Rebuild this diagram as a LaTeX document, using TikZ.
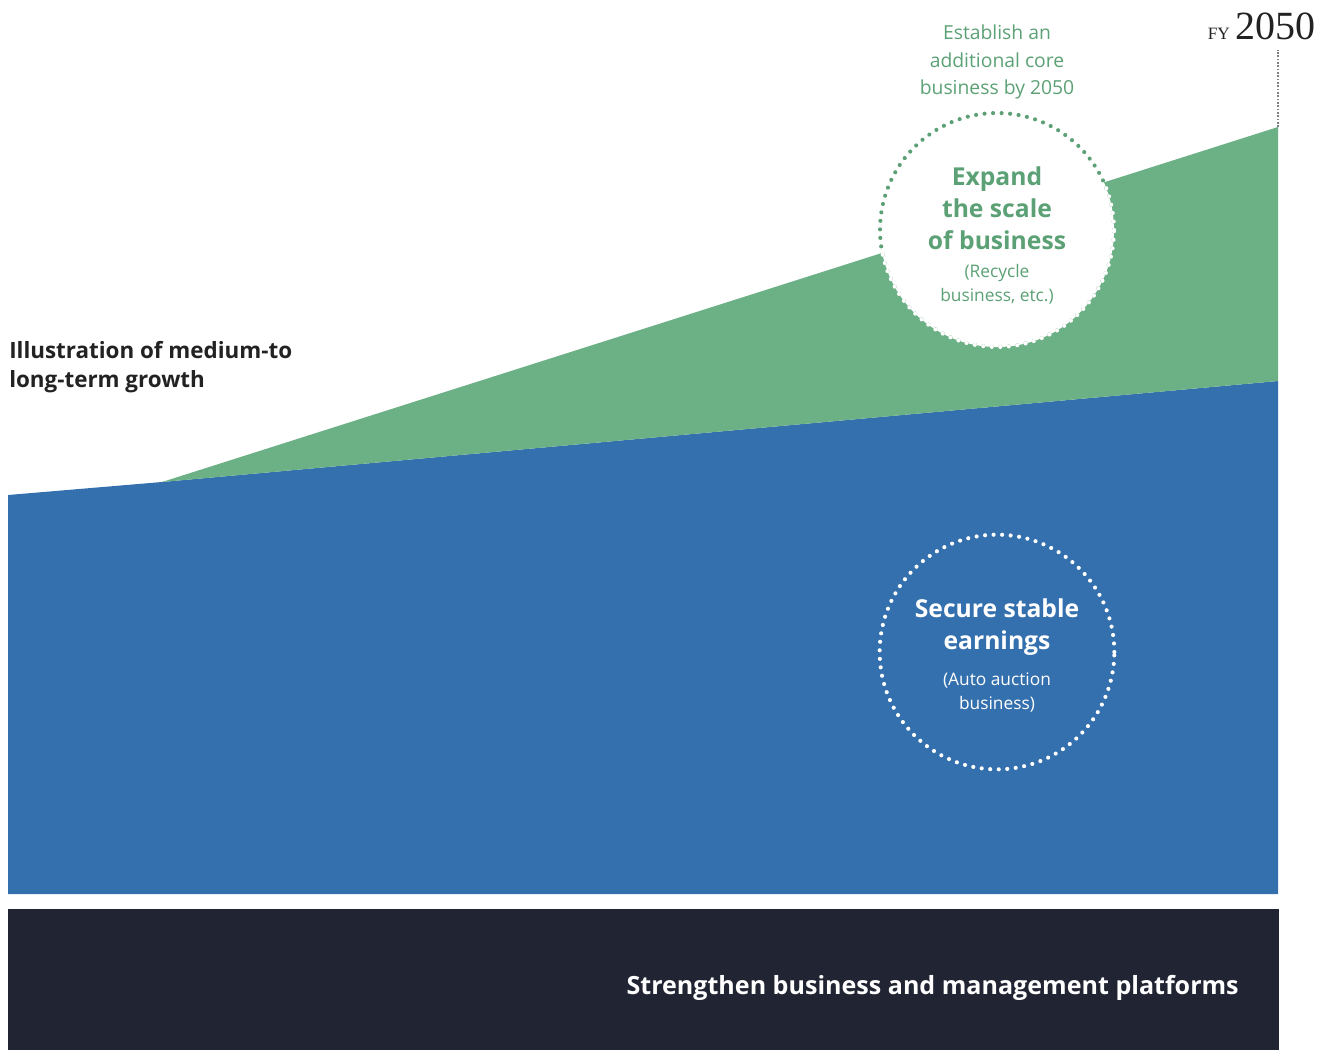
\documentclass[tikz,border=0pt]{standalone}
\usepackage{fontspec}
\setmainfont{Open Sans}
\newfontfamily\yearfont{Liberation Serif}
\definecolor{growgreen}{RGB}{108,177,134}
\definecolor{textgreen}{RGB}{92,161,117}
\definecolor{baseblue}{RGB}{52,112,174}
\definecolor{platdark}{RGB}{33,36,50}
\definecolor{inkdark}{RGB}{34,34,34}
\tikzset{
    dotring/.style={line width=3.1pt, line cap=round, dash pattern=on 0pt off 6.4pt},
    heading/.style={align=center, inner sep=0pt, font=\bfseries\fontsize{18.5}{24}\selectfont},
    subnote/.style={align=center, inner sep=0pt, font=\fontsize{13}{18}\selectfont}
}

\begin{document}
\begin{tikzpicture}[x=0.75pt,y=-0.75pt]
    \useasboundingbox (0,0) rectangle (1335,1050);

    % areas
    \coordinate (kink) at (162,482);
    \coordinate (peak) at (1278,127);
    \fill[baseblue] (8,495) -- (kink) -- (1278,381) -- (1278,894) -- (8,894) -- cycle;
    \fill[growgreen] (kink) -- (peak) -- (1278,381) -- cycle;
    \fill[platdark] (8,909) rectangle (1279,1050);

    % year mark
    \node[anchor=base east, inner sep=0pt, text=inkdark] (fy) at (1316,39)
        {\yearfont\fontsize{13}{13}\selectfont FY\,\,\fontsize{30}{30}\selectfont 2050};
    \draw[gray, line width=0.9pt, dash pattern=on 1.2pt off 1.3pt] (peak) -- (peak |- 0,50);

    % upper circle
    \coordinate (upc) at (997,230);
    \fill[white] (upc) circle[radius=87.75pt];
    \draw[dotring, textgreen] (upc) circle[radius=87.75pt];
    \begin{scope}
        \clip (kink) -- (peak) -- (1278,381) -- cycle;
        \draw[dotring, white] (upc) circle[radius=87.75pt];
    \end{scope}
    \node[heading, text=textgreen] (expand) at (997,208) {Expand\\the scale\\of business};
    \node[subnote, text=textgreen] (recycle) at (997,284) {(Recycle\\business, etc.)};
    \node[align=center, inner sep=0pt, text=textgreen, font=\fontsize{14.5}{20.6}\selectfont] (extra) at (997,62)
        {Establish an\\additional core\\business by 2050};

    % lower circle
    \coordinate (loc) at (997,652);
    \draw[dotring, white] (loc) circle[radius=88pt];
    \node[heading, text=white] (secure) at (997,627) {Secure stable\\earnings};
    \node[subnote, text=white] (auction) at (997,692) {(Auto auction\\business)};

    % labels
    \node[anchor=west, align=left, inner sep=0pt, text=inkdark, font=\bfseries\fontsize{16.8}{21.75}\selectfont] (title) at (9,367)
        {Illustration of medium-to\\long-term growth};
    \node[anchor=east, inner sep=0pt, text=white, font=\bfseries\fontsize{18.8}{22}\selectfont] (platform) at (1239,988)
        {Strengthen business and management platforms};
\end{tikzpicture}
\end{document}
